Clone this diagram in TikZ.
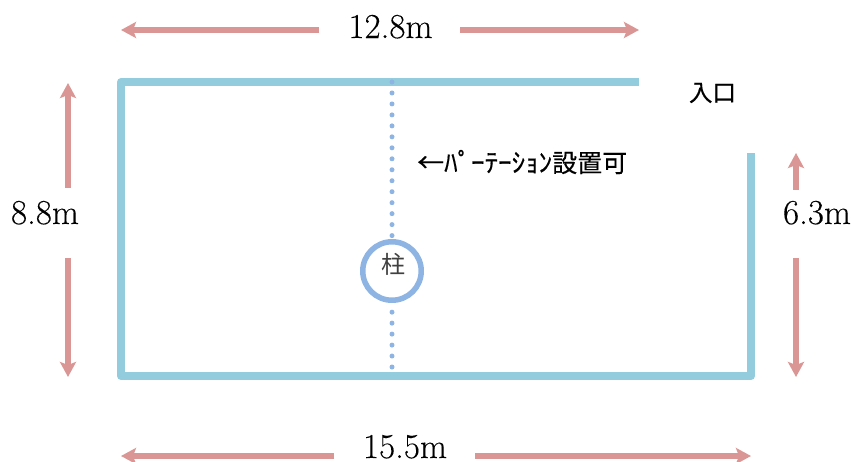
\documentclass[tikz,border=0pt]{standalone}
\usepackage{fontspec}
\setmainfont{Latin Modern Roman}[FakeBold=0.2]
\newfontfamily\jpsans{Noto Sans CJK JP}
\newfontfamily\jpbold{Noto Sans CJK JP}[FakeBold=0.3]
\usetikzlibrary{arrows.meta}
\definecolor{wallc}{HTML}{93CDDD}
\definecolor{dimc}{HTML}{D99694}
\definecolor{pillarc}{HTML}{8EB4E3}
\tikzset{
  wall/.style={draw=wallc,line width=8pt,line join=round},
  dimline/.style={draw=dimc,line width=5.5pt,-{Stealth[length=15pt,width=16pt,inset=3pt]}},
  dimlabel/.style={font=\fontsize{35}{36}\selectfont,inner sep=0pt,text=black,anchor=base},
  partition/.style={draw=pillarc,line width=5pt,line cap=round,dash pattern=on 0pt off 10.97pt},
  pillar/.style={circle,draw=pillarc,line width=5.5pt,fill=white,minimum size=58.5pt,inner sep=0pt},
  jptext/.style={font=\jpbold\fontsize{23.5}{25}\selectfont,inner sep=0pt,text=black}
}
\begin{document}
\begin{tikzpicture}[x=1pt,y=-1pt]
\useasboundingbox (0,0) rectangle (851,461);
% named end points
\coordinate (wallstart) at (639,82);
\coordinate (wallnw) at (121,82);
\coordinate (wallsw) at (121,376);
\coordinate (wallse) at (751,376);
\coordinate (wallend) at (751,153);
\coordinate (ptop) at (392,82);
\coordinate (pbottom) at (392,367);
\coordinate (ttl) at (121,30);
\coordinate (ttr) at (639,30);
\coordinate (btl) at (121,456);
\coordinate (btr) at (751,456);
\coordinate (ltop) at (68,83);
\coordinate (lbot) at (68,377);
\coordinate (rtop) at (796,153);
\coordinate (rbot) at (796,377);
% walls
\draw[wall] (wallstart) -- (wallnw) -- (wallsw) -- (wallse) -- (wallend);
% pillar and partition
\node[pillar] (column) at (392,271) {};
\node[font=\jpsans\fontsize{24}{25}\selectfont,text=black!75,inner sep=0pt] (columntext) at (393,264) {柱};
\draw[partition] (ptop) -- (392,236);
\draw[partition] (pbottom) -- (392,312);
% dimension labels
\node[dimlabel] (top) at (390.5,38) {12.8m};
\node[dimlabel] (bottom) at (405,458) {15.5m};
\node[dimlabel] (left) at (45,224) {8.8m};
\node[dimlabel] (right) at (817,224) {6.3m};
% dimension arrows
\path[dimline] (319,30) -- (ttl);
\path[dimline] (460,30) -- (ttr);
\path[dimline] (334,456) -- (btl);
\path[dimline] (475,456) -- (btr);
\path[dimline] (68,188) -- (ltop);
\path[dimline] (68,258) -- (lbot);
\path[dimline] (796,190) -- (rtop);
\path[dimline] (796,258) -- (rbot);
% texts
\node[jptext] (entrance) at (712.5,93) {入口};
\node[jptext,font=\jpbold\fontsize{25}{26}\selectfont,anchor=west] (ptext) at (417,162) {\scalebox{1.08}[1.05]{←ﾊﾟｰﾃｰｼｮﾝ}設置可};
\end{tikzpicture}
\end{document}
